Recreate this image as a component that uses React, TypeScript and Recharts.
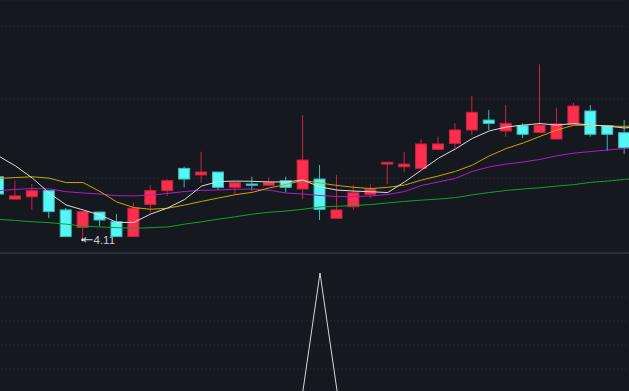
import { Bar, CartesianGrid, ComposedChart, Line, LineChart, XAxis, YAxis } from 'recharts'

// daily candles (price), the last slot only carries the moving averages
const opens = [4.406, 4.299, 4.31, 4.339, 4.248, 4.167, 4.238, 4.193, 4.125, 4.274, 4.339, 4.447, 4.415, 4.429, 4.355, 4.371, 4.365, 4.387, 4.347, 4.395, 4.209, 4.263, 4.322, 4.468, 4.455, 4.447, 4.541, 4.571, 4.639, 4.69, 4.634, 4.661, 4.627, 4.593, 4.668, 4.737, 4.661, 4.625]
const highs = [4.406, 4.387, 4.371, 4.339, 4.257, 4.24, 4.238, 4.229, 4.282, 4.366, 4.394, 4.455, 4.529, 4.429, 4.382, 4.406, 4.403, 4.406, 4.716, 4.463, 4.415, 4.366, 4.37, 4.477, 4.529, 4.592, 4.605, 4.673, 4.817, 4.742, 4.768, 4.673, 4.987, 4.754, 4.78, 4.768, 4.661, 4.69]
const lows = [4.323, 4.297, 4.248, 4.21, 4.125, 4.11, 4.173, 4.125, 4.125, 4.235, 4.314, 4.355, 4.377, 4.342, 4.318, 4.339, 4.365, 4.331, 4.299, 4.201, 4.209, 4.248, 4.303, 4.371, 4.428, 4.447, 4.538, 4.546, 4.613, 4.639, 4.605, 4.597, 4.627, 4.593, 4.668, 4.605, 4.533, 4.518]
const closes = [4.323, 4.314, 4.339, 4.24, 4.125, 4.24, 4.201, 4.125, 4.256, 4.339, 4.387, 4.395, 4.429, 4.355, 4.377, 4.365, 4.379, 4.355, 4.488, 4.251, 4.248, 4.329, 4.346, 4.477, 4.468, 4.568, 4.568, 4.639, 4.73, 4.673, 4.673, 4.617, 4.664, 4.67, 4.763, 4.617, 4.617, 4.549]

const ma5 = [4.508, 4.459, 4.4, 4.328, 4.271, 4.248, 4.224, 4.19, 4.19, 4.229, 4.257, 4.297, 4.361, 4.383, 4.385, 4.384, 4.381, 4.381, 4.39, 4.357, 4.342, 4.337, 4.334, 4.33, 4.381, 4.439, 4.497, 4.543, 4.596, 4.634, 4.654, 4.664, 4.672, 4.664, 4.672, 4.664, 4.659, 4.649, 4.659]
const ma10 = [4.398, 4.402, 4.406, 4.399, 4.378, 4.378, 4.335, 4.285, 4.259, 4.251, 4.256, 4.271, 4.288, 4.304, 4.32, 4.331, 4.352, 4.369, 4.388, 4.376, 4.364, 4.355, 4.349, 4.355, 4.366, 4.39, 4.41, 4.432, 4.463, 4.508, 4.545, 4.573, 4.606, 4.639, 4.663, 4.664, 4.66, 4.657, 4.667]
const ma20 = [4.339, 4.345, 4.349, 4.348, 4.334, 4.328, 4.323, 4.315, 4.314, 4.318, 4.326, 4.335, 4.341, 4.342, 4.346, 4.347, 4.341, 4.328, 4.323, 4.316, 4.311, 4.31, 4.314, 4.321, 4.335, 4.364, 4.381, 4.398, 4.432, 4.454, 4.468, 4.478, 4.491, 4.509, 4.522, 4.53, 4.538, 4.545, 4.551]
const ma60 = [4.204, 4.199, 4.193, 4.189, 4.182, 4.173, 4.169, 4.166, 4.163, 4.166, 4.169, 4.182, 4.193, 4.205, 4.216, 4.228, 4.237, 4.243, 4.251, 4.262, 4.265, 4.269, 4.273, 4.281, 4.288, 4.294, 4.299, 4.306, 4.319, 4.33, 4.34, 4.347, 4.353, 4.361, 4.368, 4.379, 4.385, 4.393, 4.4]

// lower panel indicator
const signal = [0, 0, 0, 0, 0, 0, 0, 0, 0, 0, 0, 0, 0, 0, 0, 0, 0, 0, 0, 100, 0, 0, 0, 0, 0, 0, 0, 0, 0, 0, 0, 0, 0, 0, 0, 0, 0, 0, 0]

const priceTicks = [4.4, 4.8, 5.2]
const signalTicks = [20, 40, 60, 80]

const rows = ma5.map((_, i) => ({
  i,
  open: opens[i],
  high: highs[i],
  low: lows[i],
  close: closes[i],
  ma5: ma5[i],
  ma10: ma10[i],
  ma20: ma20[i],
  ma60: ma60[i],
  signal: signal[i],
}))

const minLow = Math.min(...lows)

const BG = '#15181f'
const GRID = '#2f343e'
const UP = '#ff2d4e'
const DOWN = '#55f6f6'

const Candle = (props: any) => {
  const { x, y, width, height, payload } = props
  if (payload == null || payload.open == null) return null
  const top = Math.min(y, y + height)
  const bottom = Math.max(y, y + height)
  const lh = Math.log(payload.high)
  const ll = Math.log(payload.low)
  // log axis: interpolate inside the wick in log space
  const yOf = (p: number) => (lh === ll ? top : top + ((bottom - top) * (lh - Math.log(p))) / (lh - ll))
  const up = payload.close >= payload.open
  const fill = up ? UP : DOWN
  const edge = up ? '#c9253f' : '#3bbcbc'
  const cx = x + width / 2
  const bt = yOf(Math.max(payload.open, payload.close))
  const bb = yOf(Math.min(payload.open, payload.close))
  return (
    <g>
      <line x1={cx} x2={cx} y1={top} y2={bottom} stroke={edge} strokeWidth={1} />
      <rect x={x + 0.5} y={bt} width={width - 1} height={Math.max(bb - bt, 1)} fill={fill} stroke={edge} strokeWidth={1} />
      {payload.low === minLow && (
        <g>
          <circle cx={cx} cy={bottom} r={1.3} fill="#ffffff" />
          <text x={cx} y={bottom + 0.5} dy="0.35em" fill="#c9ced7" fontSize={11.5} fontFamily="Liberation Sans, Arial, sans-serif">
            <tspan fontFamily="DejaVu Sans, sans-serif" fontSize={13}>{'\u2190'}</tspan>
            {minLow.toFixed(2)}
          </text>
        </g>
      )}
    </g>
  )
}

const W = 660
const LEFT = -10.38

export default function App() {
  return (
    <div style={{ position: 'relative', width: 629, height: 391, overflow: 'hidden', background: BG }}>
      <style>{'body{margin:0;background:' + BG + '}'}</style>
      <div style={{ position: 'absolute', left: LEFT, top: 0 }}>
        <ComposedChart width={W} height={252} data={rows} margin={{ top: 0, right: 0, bottom: 0, left: 0 }}>
          <CartesianGrid vertical={false} stroke={GRID} strokeDasharray="1 3" />
          <XAxis dataKey="i" hide />
          <YAxis scale="log" domain={[4.0556, 5.353]} ticks={priceTicks} allowDataOverflow hide />
          <Bar
            dataKey={(d: any) => (d.open == null ? null : [d.low, d.high])}
            barSize={12}
            shape={Candle}
            isAnimationActive={false}
          />
          <Line dataKey="ma60" stroke="#16a02c" strokeWidth={1} dot={false} activeDot={false} isAnimationActive={false} />
          <Line dataKey="ma20" stroke="#ad1fc2" strokeWidth={1} dot={false} activeDot={false} isAnimationActive={false} />
          <Line dataKey="ma10" stroke="#c9a600" strokeWidth={1} dot={false} activeDot={false} isAnimationActive={false} />
          <Line dataKey="ma5" stroke="#dcdcdc" strokeWidth={1} dot={false} activeDot={false} isAnimationActive={false} />
        </ComposedChart>
      </div>
      <div style={{ position: 'absolute', left: 0, top: 252, width: 629, height: 2, background: '#2a2e39' }} />
      <div style={{ position: 'absolute', left: LEFT, top: 253 }}>
        <LineChart width={W} height={140} data={rows} margin={{ top: 0, right: 0, bottom: 0, left: 0 }}>
          <CartesianGrid vertical={false} stroke={GRID} strokeDasharray="1 3" />
          <XAxis dataKey="i" hide />
          <YAxis domain={[0, 116.67]} ticks={signalTicks} allowDataOverflow hide />
          <Line dataKey="signal" stroke="#d6d6d6" strokeWidth={1} dot={false} activeDot={false} isAnimationActive={false} />
        </LineChart>
      </div>
    </div>
  )
}
